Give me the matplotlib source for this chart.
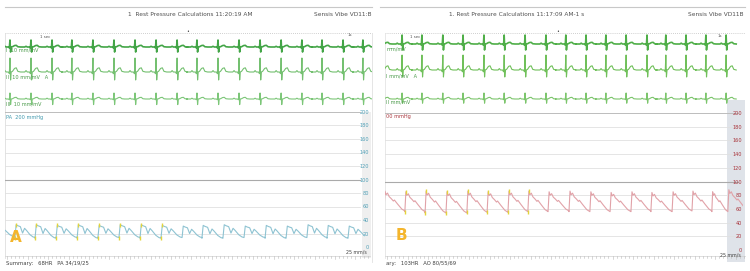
import matplotlib
matplotlib.use("Agg")
import matplotlib.pyplot as plt
import numpy as np

# ---------------- data ----------------
# Panel A (PA pressure, 68 HR)
ecg_beats_a = [0.21, 1.10, 1.99, 2.83, 3.72, 4.61, 5.50, 6.39, 7.28, 8.12, 9.01,
               9.90, 10.79, 11.68, 12.56, 13.41, 14.30, 15.14]
rr_a = 0.88
press_beats_a = [-0.45, 0.42, 1.27, 2.16, 3.05, 3.93, 4.82, 5.71, 6.60, 7.49, 8.33,
                 9.22, 10.11, 11.00, 11.89, 12.77, 13.62, 14.51]
sys_a = [30, 33, 33, 32, 33, 32, 33, 33, 32, 31, 32, 33, 31, 32, 31, 33, 32, 31]
dia_a = [15, 14, 13, 14, 13, 14, 14, 13, 14, 14, 13, 14, 14, 13, 14, 14, 13, 14]
marked_a = [1, 2, 3, 4, 5, 6, 7, 8]

# Panel B (AO pressure, 103 HR)
ecg_beats_b = [-0.09, 0.49, 1.06, 1.66, 2.24, 2.84, 3.42, 4.02, 4.62, 5.19, 5.77,
               6.34, 6.92, 7.52, 8.06, 8.64, 9.21, 9.79]
rr_b = 0.58
press_beats_b = [-0.03, 0.57, 1.15, 1.75, 2.35, 2.93, 3.53, 4.10, 4.68, 5.28, 5.88,
                 6.46, 7.06, 7.63, 8.24, 8.81, 9.38, 9.84]
sys_b = [86, 85, 86, 85, 86, 85, 86, 86, 85, 86, 85, 84, 85, 84, 85, 86, 85, 88]
dia_b = [57, 56, 54, 54, 55, 55, 56, 56, 57, 56, 56, 56, 57, 56, 57, 57, 56, 58]
marked_b = [1, 2, 3, 4, 5, 6, 7]

# pressure beat shapes (phase of beat, fraction between diastolic and systolic)
pa_phase = [0.00, 0.06, 0.15, 0.27, 0.38, 0.48, 0.58, 0.75, 0.90, 1.00]
pa_frac = [0.00, 1.00, 0.92, 0.85, 0.35, 0.72, 0.55, 0.22, 0.05, 0.00]
ao_phase = [0.00, 0.05, 0.10, 0.17, 0.25, 0.35, 0.45, 0.50, 0.65, 0.85, 1.00]
ao_frac = [0.00, 1.00, 0.82, 0.90, 0.72, 0.62, 0.50, 0.55, 0.35, 0.10, 0.00]

# ECG beat shape: phase relative to R peak (fraction of RR)
ecg_phase = [-0.50, -0.30, -0.24, -0.18, -0.08, -0.03, 0.00, 0.03, 0.06,
             0.12, 0.22, 0.30, 0.38, 0.50]
# per lead amplitudes in mV: R, S, T, P
leads_a = {"r": [0.50, 1.00, 0.43], "s": [0.36, 0.57, 0.40],
           "t": [0.12, 0.30, 0.12], "p": [0.05, 0.10, 0.06]}
leads_b = {"r": [0.64, 1.07, 0.43], "s": [0.43, 0.50, 0.30],
           "t": [0.12, 0.30, 0.12], "p": [0.06, 0.10, 0.06]}

press_ticks = [0, 20, 40, 60, 80, 100, 120, 140, 160, 180, 200]

# ---------------- figure ----------------
W, H = 750, 271
fig = plt.figure(figsize=(W / 100, H / 100), dpi=100)
fig.patch.set_facecolor("white")


def box(x0, y0, x1, y1):
    return [x0 / W, 1 - y1 / H, (x1 - x0) / W, (y1 - y0) / H]


def ftext(x, y, s, **kw):
    kw.setdefault("fontsize", 4.2)
    kw.setdefault("color", "#505050")
    kw.setdefault("va", "center")
    fig.text(x / W, 1 - y / H, s, **kw)


# background decoration axes in pixel units
bg = fig.add_axes([0, 0, 1, 1], zorder=0)
bg.set_xlim(0, W)
bg.set_ylim(H, 0)
bg.axis("off")

# top rules
bg.plot([5, 372], [7, 7], color="#c8c8c8", lw=0.8)
bg.plot([380, 745], [7, 7], color="#c8c8c8", lw=0.8)
# ECG area top borders (dotted)
bg.plot([5, 372], [33, 33], color="#c0c0c0", lw=0.6, ls=(0, (1, 1.5)))
bg.plot([385, 745], [33, 33], color="#c0c0c0", lw=0.6, ls=(0, (1, 1.5)))
# panel side borders
bg.plot([5, 5], [33, 258], color="#dedede", lw=0.6)
bg.plot([372, 372], [33, 262], color="#e0e0e0", lw=0.6)
bg.plot([385, 385], [33, 258], color="#e4e4e4", lw=0.6)
# gray bands at right
bg.fill_between([362, 371], 112, 258, color="#efefef", lw=0)
bg.fill_between([727, 745], 100, 262, color="#dfe3e9", lw=0)
# bottom timing tick rows
for x0, x1 in [(5, 370), (385, 745)]:
    bg.plot([x0, x1], [256, 256], color="#d0d0d0", lw=0.5)
    xs = np.arange(x0 + 2, x1, 4.1)
    for i, xv in enumerate(xs):
        ln = 3.0 if i % 5 == 0 else 1.5
        bg.plot([xv, xv], [256, 256 + ln], color="#b8b8b8", lw=0.4)


def ecg_trace(beats, rr, r, s, t, p):
    amps = [0, 0, p, 0, 0, -0.12 * r, r, -s, 0, 0.15 * t, 0.85 * t, t, 0.15 * t, 0]
    xs, ys = [], []
    for b in beats:
        for ph, a in zip(ecg_phase, amps):
            xs.append(b + ph * rr)
            ys.append(a)
    return np.array(xs), np.array(ys)


def press_trace(beats, sysv, diav, phase, frac, rr):
    xs, ys = [], []
    for i, b in enumerate(beats):
        per = beats[i + 1] - b if i + 1 < len(beats) else rr
        for ph, f in zip(phase, frac):
            xs.append(b + ph * per)
            ys.append(diav[i] + f * (sysv[i] - diav[i]))
    return np.array(xs), np.array(ys)


px_per_mv = 14.0


def ecg_axes(x0, x1, sec_per_px, beats, rr, leads, offsets, colors, lws):
    ax = fig.add_axes(box(x0, 33, x1, 112), zorder=1)
    ax.patch.set_alpha(0)
    ax.set_xlim(0, (x1 - x0) * sec_per_px)
    ax.set_ylim(-79 / px_per_mv, 0)
    ax.axis("off")
    for k in range(3):
        xs, ys = ecg_trace(beats, rr, leads["r"][k], leads["s"][k],
                           leads["t"][k], leads["p"][k])
        ax.plot(xs, ys - offsets[k] / px_per_mv, color=colors[k], lw=lws[k],
                solid_joinstyle="round")
    return ax


def press_axes(x0, x1, y200, y0, sec_per_px, beats, sysv, diav, phase, frac, rr,
               color, tick_color, marked, pad):
    ax = fig.add_axes(box(x0, y200, x1, y0), zorder=1)
    ax.patch.set_alpha(0)
    ax.set_xlim(0, (x1 - x0) * sec_per_px)
    ax.set_ylim(0, 200)
    for sp in ax.spines.values():
        sp.set_visible(False)
    ax.set_xticks([])
    for v in press_ticks:
        if v == 100:
            c, lw = "#aaaaaa", 0.8
        elif v in (0, 200):
            c, lw = "#bcbcbc", 0.7
        else:
            c, lw = "#e0e0e0", 0.6
        ax.axhline(v, color=c, lw=lw, xmax=0.985, zorder=0)
    xs, ys = press_trace(beats, sysv, diav, phase, frac, rr)
    ax.plot(xs, ys, color=color, lw=0.8, zorder=2)
    for i in marked:
        per = beats[i + 1] - beats[i]
        ax.plot([beats[i]], [diav[i]], marker="|", ms=2.2, mew=1.0,
                color="#e3d43a", zorder=3)
        ax.plot([beats[i] + phase[1] * per], [sysv[i]], marker="|", ms=2.2,
                mew=1.0, color="#e3d43a", zorder=3)
    ax.yaxis.tick_right()
    ax.set_yticks(press_ticks)
    ax.set_yticklabels([str(v) for v in press_ticks])
    ax.tick_params(axis="y", length=0, pad=pad, labelsize=3.6,
                   labelcolor=tick_color)
    for lab in ax.get_yticklabels():
        lab.set_horizontalalignment("right")
    return ax


kA = 0.0423
kB = 0.0287

ecg_axes(5, 372, kA, ecg_beats_a, rr_a, leads_a, [14, 39, 66],
         ["#43a547", "#74c070", "#7cc678"], [1.2, 0.8, 0.8])
ecg_axes(385, 745, kB, ecg_beats_b, rr_b, leads_b, [11, 37, 66],
         ["#4fae48", "#70c05a", "#7cc56c"], [1.2, 0.8, 0.8])

press_axes(5, 365, 112, 247, kA, press_beats_a, sys_a, dia_a, pa_phase, pa_frac,
           rr_a, "#8ec3d2", "#4f9fb6", marked_a, 3.0)
press_axes(385, 743, 113, 250, kB, press_beats_b, sys_b, dia_b, ao_phase, ao_frac,
           rr_b, "#e1a2a8", "#a8343c", marked_b, -0.5)

# ---------------- texts ----------------
ftext(190, 15, "1  Rest Pressure Calculations 11:20:19 AM", ha="center")
ftext(371, 15, "Sensis Vibe VD11:B", ha="right")
ftext(517, 15, "1. Rest Pressure Calculations 11:17:09 AM-1 s", ha="center")
ftext(743, 15, "Sensis Vibe VD11B", ha="right")

ftext(40, 37, "1 sec", fontsize=2.8)
ftext(348, 35, "1s", fontsize=2.8)
ftext(410, 37, "1 sec", fontsize=2.8)
ftext(718, 36, "1s", fontsize=2.8)
ftext(188, 31, "\u2022", fontsize=3.5, color="#404040", ha="center")
ftext(558, 31, "\u2022", fontsize=3.5, color="#404040", ha="center")

ftext(6, 50, "I  10 mm/mV", fontsize=3.6, color="#4a9a4a")
ftext(6, 77, "II  10 mm/mV   A", fontsize=3.6, color="#4a9a4a")
ftext(6, 104, "III  10 mm/mV", fontsize=3.6, color="#4a9a4a")
ftext(386, 49, "mm/mV", fontsize=3.6, color="#4a9a4a")
ftext(386, 76, "I mm/mV   A", fontsize=3.6, color="#4a9a4a")
ftext(386, 102, "II mm/mV", fontsize=3.6, color="#4a9a4a")

ftext(6, 118, "PA  200 mmHg", fontsize=3.6, color="#3f98ad")
ftext(386, 117, "00 mmHg", fontsize=3.6, color="#a8343c")

ftext(367, 252, "25 mm/s", fontsize=3.4, ha="right", color="#404040")
ftext(741, 255, "25 mm/s", fontsize=3.4, ha="right", color="#404040")

ftext(6, 264, "Summary:   68HR   PA 34/19/25", fontsize=3.8, color="#404040")
ftext(386, 264, "ary:   103HR   AO 80/55/69", fontsize=3.8, color="#404040")

ftext(16, 238, "A", fontsize=11, color="#f4b52c", ha="center", fontweight="bold")
ftext(401, 236, "B", fontsize=11, color="#f4b52c", ha="center", fontweight="bold")

fig.savefig("out.png", dpi=100)
